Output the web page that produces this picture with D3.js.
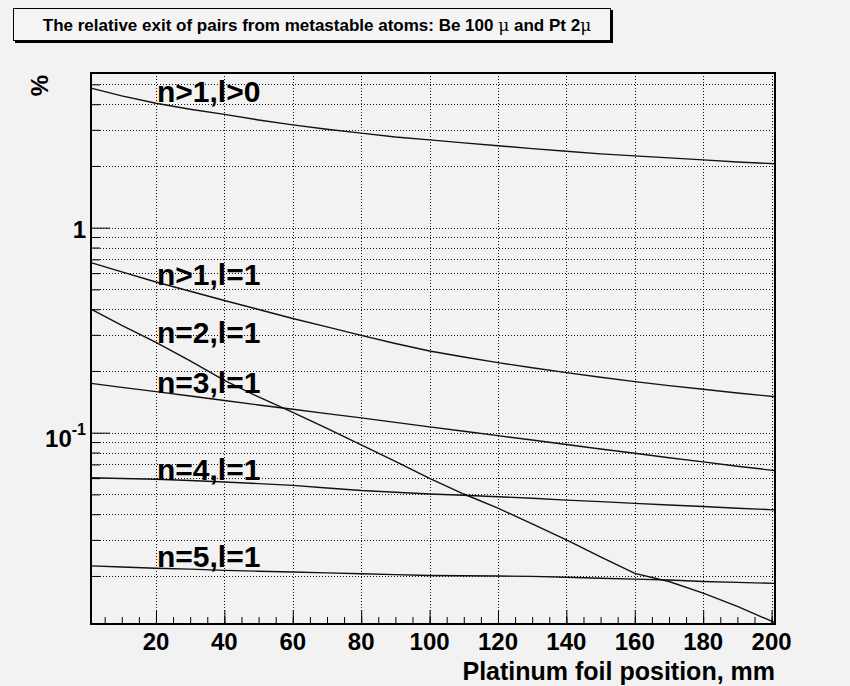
<!DOCTYPE html>
<html>
<head>
<meta charset="utf-8">
<script src="https://cdn.jsdelivr.net/npm/d3@7"></script>
<style>
  body { margin: 0; background: #f2f2f2; }
  svg { display: block; }
  text { font-family: "Liberation Sans", Arial, Helvetica, sans-serif; font-weight: bold; fill: #000; }
</style>
</head>
<body>
<svg id="chart" width="850" height="686"></svg>
<script>
// Platinum foil positions (mm) at which the curves are sampled
const positions = [1, 10, 20, 30, 40, 50, 60, 70, 80, 90, 100, 110, 120, 130, 140, 150, 160, 170, 180, 190, 201];

// Relative exit of pairs, %
const nGt1LGt0 = [4.79, 4.39, 4.045, 3.78, 3.57, 3.35, 3.17, 3.02, 2.89, 2.77, 2.68, 2.59, 2.51, 2.43, 2.36, 2.29, 2.24, 2.19, 2.14, 2.09, 2.05];
const nGt1L1   = [0.675, 0.608, 0.543, 0.4895, 0.4414, 0.399, 0.3606, 0.328, 0.298, 0.2723, 0.2503, 0.234, 0.2195, 0.2073, 0.1962, 0.1863, 0.1773, 0.1697, 0.1628, 0.1562, 0.1498];
const n2L1     = [0.400, 0.3334, 0.2754, 0.2238, 0.1797, 0.1493, 0.1255, 0.1048, 0.0871, 0.0724, 0.0599, 0.0502, 0.0428, 0.0359, 0.0300, 0.0248, 0.0206, 0.0188, 0.0165, 0.0142, 0.01183];
const n3L1     = [0.174, 0.1662, 0.1585, 0.151, 0.1436, 0.1365, 0.130, 0.1238, 0.118, 0.1122, 0.1067, 0.1016, 0.0967, 0.0921, 0.0876, 0.0833, 0.0794, 0.0755, 0.0720, 0.0686, 0.0653];
const n4L1     = [0.0603, 0.0598, 0.0593, 0.0584, 0.0575, 0.0564, 0.0553, 0.0537, 0.0522, 0.0512, 0.0502, 0.0495, 0.0487, 0.0479, 0.0469, 0.0461, 0.0452, 0.0444, 0.0436, 0.0428, 0.0420];
const n5L1     = [0.0224, 0.0221, 0.0218, 0.0216, 0.0213, 0.0211, 0.0209, 0.0207, 0.0205, 0.0203, 0.0201, 0.02006, 0.0200, 0.0199, 0.0197, 0.0195, 0.0193, 0.0191, 0.0188, 0.0186, 0.0184];

const seriesNames = ["n>1,l>0", "n>1,l=1", "n=2,l=1", "n=3,l=1", "n=4,l=1", "n=5,l=1"];
// Where each curve name is written (position in mm, value in %)
const labelAt = [[20.3, 4.12], [20.3, 0.5254], [20.3, 0.2748], [20.3, 0.1557], [20.3, 0.0588], [20.3, 0.02205]];

const xTickValues = [20, 40, 60, 80, 100, 120, 140, 160, 180, 200];
const yMinorValues = [0.02, 0.03, 0.04, 0.05, 0.06, 0.07, 0.08, 0.09, 0.2, 0.3, 0.4, 0.5, 0.6, 0.7, 0.8, 0.9, 2, 3, 4, 5];
const yMajorValues = [0.1, 1];
const yMajorLabels = [["10", "-1"], ["1", ""]];

const titleText = "The relative exit of pairs from metastable atoms: Be 100 ";
const xTitle = "Platinum foil position, mm";
const yTitle = "%";

const series = [nGt1LGt0, nGt1L1, n2L1, n3L1, n4L1, n5L1];

const svg = d3.select("#chart");
const frame = { left: 91, right: 775, top: 73, bottom: 624 };

const x = d3.scaleLinear().domain([1, 201]).range([frame.left, frame.right]);
const y = d3.scaleLog().domain([0.01166, 5.68]).range([frame.bottom, frame.top]);

// Frame background
svg.append("rect")
  .attr("x", frame.left).attr("y", frame.top)
  .attr("width", frame.right - frame.left).attr("height", frame.bottom - frame.top)
  .attr("fill", "#f2f2f2");

// Dotted grid
const grid = svg.append("g").attr("stroke", "#111").attr("stroke-width", 1).attr("stroke-dasharray", "1,2");
grid.selectAll("line.gx").data(xTickValues).join("line")
  .attr("x1", d => Math.round(x(d)) + 0.5).attr("x2", d => Math.round(x(d)) + 0.5)
  .attr("y1", frame.top).attr("y2", frame.bottom);
grid.selectAll("line.gy").data(yMinorValues.concat(yMajorValues)).join("line")
  .attr("y1", d => Math.round(y(d)) + 0.5).attr("y2", d => Math.round(y(d)) + 0.5)
  .attr("x1", frame.left).attr("x2", frame.right);

// Curves
const line = d3.line().x((d, i) => x(positions[i])).y(d => y(d));
svg.append("g").selectAll("path").data(series).join("path")
  .attr("d", d => line(d))
  .attr("fill", "none").attr("stroke", "#111").attr("stroke-width", 1.4);

// Axes with inward ticks
const xMinor = d3.range(5, 201, 5);
svg.append("g").attr("transform", `translate(0,${frame.bottom})`)
  .call(d3.axisTop(x).tickValues(xMinor).tickSize(7).tickFormat(""))
  .call(g => { g.select(".domain").remove(); g.selectAll("line").attr("stroke", "#000"); });
svg.append("g").attr("transform", `translate(0,${frame.bottom})`)
  .call(d3.axisTop(x).tickValues(xTickValues).tickSize(14).tickFormat(""))
  .call(g => { g.select(".domain").remove(); g.selectAll("line").attr("stroke", "#000"); });

svg.append("g").attr("transform", `translate(${frame.left},0)`)
  .call(d3.axisRight(y).tickValues(yMinorValues).tickSize(9).tickFormat(""))
  .call(g => { g.select(".domain").remove(); g.selectAll("line").attr("stroke", "#000"); });
svg.append("g").attr("transform", `translate(${frame.left},0)`)
  .call(d3.axisRight(y).tickValues(yMajorValues).tickSize(19).tickFormat(""))
  .call(g => { g.select(".domain").remove(); g.selectAll("line").attr("stroke", "#000"); });

// Frame border
svg.append("rect")
  .attr("x", frame.left).attr("y", frame.top)
  .attr("width", frame.right - frame.left).attr("height", frame.bottom - frame.top)
  .attr("fill", "none").attr("stroke", "#000").attr("stroke-width", 2);

// Tick labels
svg.append("g").selectAll("text").data(xTickValues).join("text")
  .attr("x", d => x(d)).attr("y", 650)
  .attr("text-anchor", "middle").attr("font-size", 24)
  .text(d => d);

const yl = svg.append("g").selectAll("text").data(yMajorValues).join("text")
  .attr("x", 86).attr("y", (d, i) => y(d) + (yMajorLabels[i][1] ? 14 : 10))
  .attr("text-anchor", "end").attr("font-size", 24);
yl.append("tspan").text((d, i) => yMajorLabels[i][0]);
yl.append("tspan").attr("font-size", 16).attr("dy", -12).text((d, i) => yMajorLabels[i][1]);

// Axis titles
svg.append("text")
  .attr("x", frame.right).attr("y", 680)
  .attr("text-anchor", "end").attr("font-size", 25)
  .text(xTitle);
svg.append("text")
  .attr("transform", "translate(48,75) rotate(-90)")
  .attr("text-anchor", "end").attr("font-size", 24)
  .text(yTitle);

// Curve names
svg.append("g").selectAll("text").data(seriesNames).join("text")
  .attr("x", (d, i) => x(labelAt[i][0])).attr("y", (d, i) => y(labelAt[i][1]))
  .attr("font-size", 30)
  .text(d => d);

// Title box with shadow
svg.append("rect").attr("x", 15).attr("y", 40).attr("width", 598).attr("height", 3).attr("fill", "#000");
svg.append("rect").attr("x", 610).attr("y", 10).attr("width", 3).attr("height", 33).attr("fill", "#000");
svg.append("rect").attr("x", 13.5).attr("y", 8.5).attr("width", 597).attr("height", 32)
  .attr("fill", "#f4f4f4").attr("stroke", "#000").attr("stroke-width", 1);
const t = svg.append("text").attr("x", 317).attr("y", 31).attr("text-anchor", "middle").attr("font-size", 17);
t.append("tspan").text(titleText);
t.append("tspan").attr("font-weight", "normal").attr("font-family", "DejaVu Serif, serif").text("\u03bc");
t.append("tspan").text(" and Pt 2");
t.append("tspan").attr("font-weight", "normal").attr("font-family", "DejaVu Serif, serif").text("\u03bc");
</script>
</body>
</html>
